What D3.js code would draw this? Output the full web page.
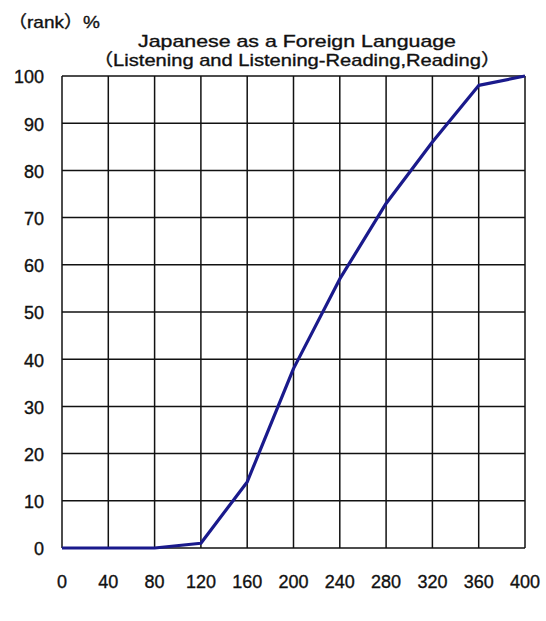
<!DOCTYPE html>
<html><head><meta charset="utf-8">
<script src="https://cdn.jsdelivr.net/npm/d3@7"></script>
<style>body{margin:0;background:#fff}svg{display:block}text{font-family:"Liberation Sans","Noto Sans CJK JP",sans-serif;fill:#111;stroke:#111;stroke-width:0.35px}</style>
</head><body>
<script>
const scores = [0, 40, 80, 120, 160, 200, 240, 280, 320, 360, 400];
const ranks  = [0, 0, 0, 1, 14, 38, 57, 73, 86, 98, 100];
const yTicks = [0, 10, 20, 30, 40, 50, 60, 70, 80, 90, 100];
const xTicks = [0, 40, 80, 120, 160, 200, 240, 280, 320, 360, 400];
const titleLines = ["Japanese as a Foreign Language", "（Listening and Listening-Reading,Reading）"];
const yUnit = "（rank）%";

const W = 546, H = 621;
const svg = d3.select("body").append("svg").attr("width", W).attr("height", H);
const x = d3.scaleLinear().domain([0, 400]).range([62, 525]);
const y = d3.scaleLinear().domain([0, 100]).range([548, 76]);

// grid
svg.append("g").selectAll("line").data(xTicks).join("line")
  .attr("x1", d => x(d)).attr("x2", d => x(d)).attr("y1", y(0)).attr("y2", y(100))
  .attr("stroke", "#111").attr("stroke-width", 1.5);
svg.append("g").selectAll("line").data(yTicks).join("line")
  .attr("y1", d => y(d)).attr("y2", d => y(d)).attr("x1", x(0)).attr("x2", x(400))
  .attr("stroke", "#111").attr("stroke-width", 1.5);

// y labels
svg.append("g").selectAll("text").data(yTicks).join("text")
  .attr("x", 44).attr("y", d => y(d) + 1).attr("dy", "0.35em")
  .attr("text-anchor", "end").attr("font-size", 18)
  .text(d => d);
// x labels
svg.append("g").selectAll("text").data(xTicks).join("text")
  .attr("x", d => x(d)).attr("y", 582).attr("dy", "0.35em")
  .attr("text-anchor", "middle").attr("font-size", 18)
  .text(d => d);

// line
const pts = scores.map((s, i) => [s, ranks[i]]);
svg.append("path").datum(pts)
  .attr("d", d3.line().x(d => x(d[0])).y(d => y(d[1])))
  .attr("fill", "none").attr("stroke", "#1a1a8c").attr("stroke-width", 3.2)
  .attr("stroke-linejoin", "round");

// titles
svg.append("text").attr("x", 8).attr("y", 22).attr("dy", "0.35em")
  .attr("font-size", 17).attr("textLength", 92).attr("lengthAdjust", "spacingAndGlyphs")
  .text(yUnit);
const tw = [318, 408];
svg.selectAll(".title").data(titleLines).join("text").attr("class", "title")
  .attr("x", 297).attr("y", (d, i) => 41 + i * 19).attr("dy", "0.35em")
  .attr("text-anchor", "middle").attr("font-size", 17)
  .attr("textLength", (d, i) => tw[i]).attr("lengthAdjust", "spacingAndGlyphs")
  .text(d => d);
</script>
</body></html>
